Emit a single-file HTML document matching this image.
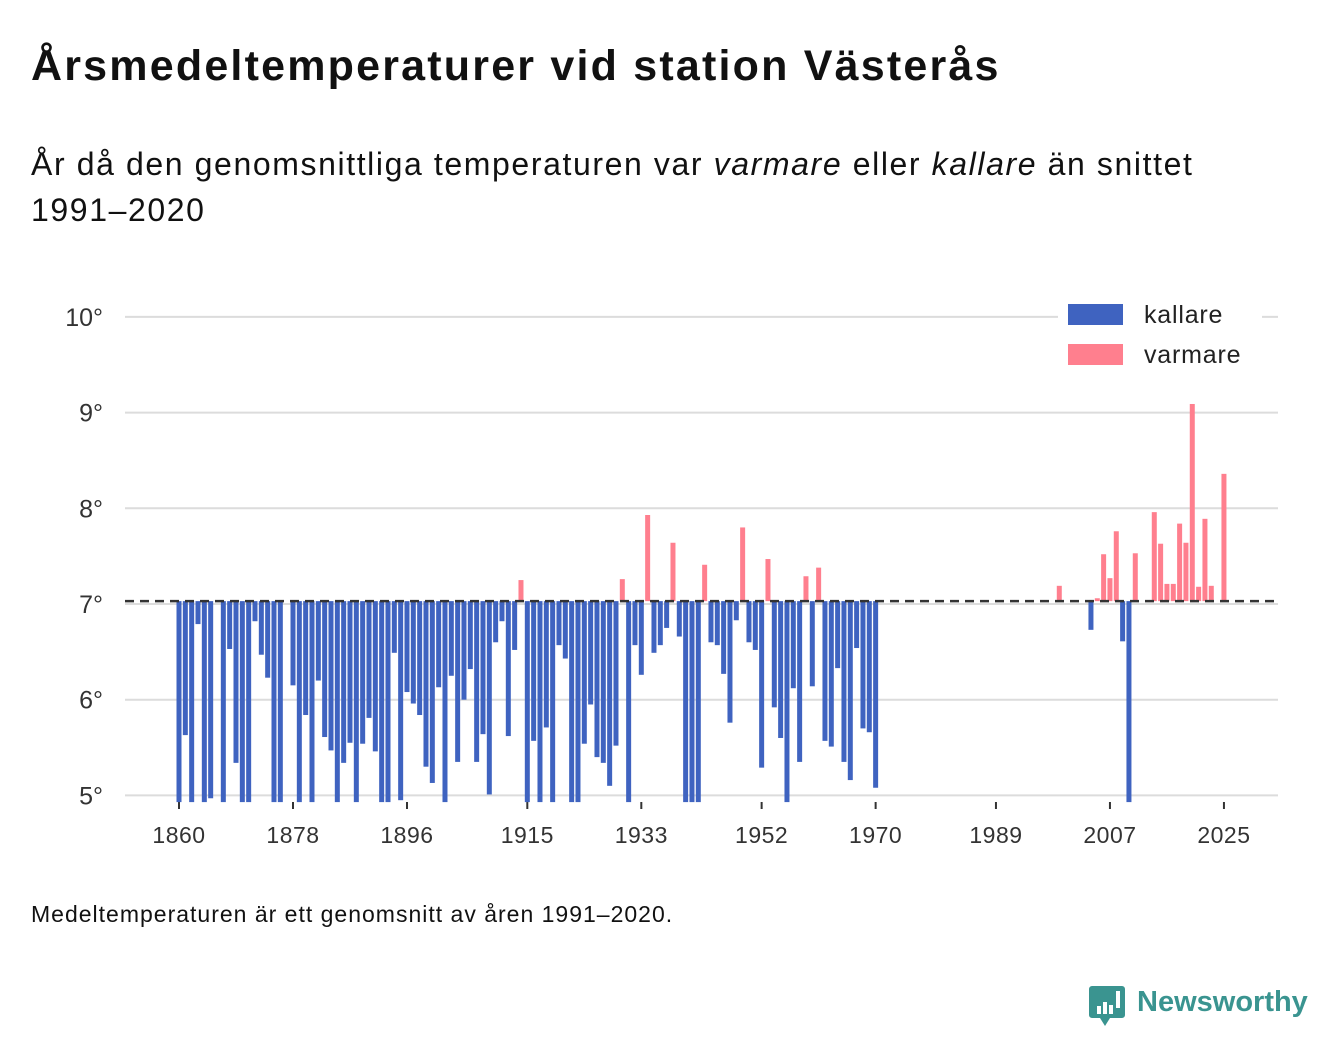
<!DOCTYPE html>
<html><head><meta charset="utf-8">
<style>
body{margin:0;width:1340px;height:1056px;background:#fff;overflow:hidden;font-family:"Liberation Sans",sans-serif;color:#111;}
#title{position:absolute;left:31px;top:42px;font-size:43px;font-weight:bold;margin:0;white-space:nowrap;letter-spacing:2.2px}
#subtitle{position:absolute;left:31px;top:141px;font-size:32px;line-height:46px;width:1200px;margin:0;letter-spacing:1.6px}
#footnote{position:absolute;left:31px;top:901px;font-size:23px;letter-spacing:1px}
svg{position:absolute;left:0;top:0}
</style></head><body>
<h1 id="title">Årsmedeltemperaturer vid station Västerås</h1>
<p id="subtitle">År då den genomsnittliga temperaturen var <i>varmare</i> eller <i>kallare</i> än snittet 1991–2020</p>
<div id="footnote">Medeltemperaturen är ett genomsnitt av åren 1991–2020.</div>
<svg id="chart" width="1340" height="1056"></svg>
<script>
const years = [1860,1861,1862,1863,1864,1865,1867,1868,1869,1870,1871,1872,1873,1874,1875,1876,1878,1879,1880,1881,1882,1883,1884,1885,1886,1887,1888,1889,1890,1891,1892,1893,1894,1895,1896,1897,1898,1899,1900,1901,1902,1903,1904,1905,1906,1907,1908,1909,1910,1911,1912,1913,1914,1915,1916,1917,1918,1919,1920,1921,1922,1923,1924,1925,1926,1927,1928,1929,1930,1931,1932,1933,1934,1935,1936,1937,1938,1939,1940,1941,1942,1943,1944,1945,1946,1947,1948,1949,1950,1951,1952,1953,1954,1955,1956,1957,1958,1959,1960,1961,1962,1963,1964,1965,1966,1967,1968,1969,1970,1999,2004,2005,2006,2007,2008,2009,2010,2011,2014,2015,2016,2017,2018,2019,2020,2021,2022,2023,2025];
const temps = [4.8,5.63,4.8,6.79,4.8,4.97,4.8,6.53,5.34,4.8,4.8,6.82,6.47,6.23,4.8,4.8,6.15,4.8,5.84,4.8,6.2,5.61,5.47,4.8,5.34,5.55,4.8,5.54,5.81,5.46,4.8,4.8,6.49,4.95,6.08,5.96,5.84,5.3,5.13,6.13,4.8,6.25,5.35,6.0,6.32,5.35,5.64,5.01,6.6,6.82,5.62,6.52,7.25,4.8,5.57,4.8,5.71,4.8,6.57,6.43,4.8,4.8,5.54,5.95,5.4,5.34,5.1,5.52,7.26,4.8,6.57,6.26,7.93,6.49,6.57,6.75,7.64,6.66,4.8,4.8,4.8,7.41,6.6,6.57,6.27,5.76,6.83,7.8,6.6,6.52,5.29,7.47,5.92,5.6,4.8,6.12,5.35,7.29,6.14,7.38,5.57,5.51,6.33,5.35,5.16,6.54,5.7,5.66,5.08,7.19,6.73,7.06,7.52,7.27,7.76,6.61,4.8,7.53,7.96,7.63,7.21,7.21,7.84,7.64,9.09,7.18,7.89,7.19,8.36];
const yTicks = [5,6,7,8,9,10];
const yTickLabels = ["5°","6°","7°","8°","9°","10°"];
const xTicks = [1860,1878,1896,1915,1933,1952,1970,1989,2007,2025];
const baseline = 7.03;

const NS="http://www.w3.org/2000/svg";
const svg=document.getElementById('chart');
const X=yr=>179+(yr-1860)*6.333;
const Y=v=>604-(Math.max(v,4.93)-7)*95.7;
function mk(t,a){const e=document.createElementNS(NS,t);for(const k in a)e.setAttribute(k,a[k]);svg.appendChild(e);return e;}

yTicks.forEach((t,i)=>{
  const g=mk('line',{x1:125,x2:1278,y1:Y(t),y2:Y(t),stroke:'#dcdcdc','stroke-width':2});
  
  
  const l=mk('text',{x:103,y:Y(t)+9,'text-anchor':'end','font-size':25,fill:'#333','font-family':'Liberation Sans, sans-serif'});
  l.textContent=yTickLabels[i];
  
  
});
xTicks.forEach(t=>{
  const tk=mk('line',{x1:X(t),x2:X(t),y1:802,y2:809,stroke:'#333','stroke-width':2});
  
  
  const l=mk('text',{x:X(t),y:843,'text-anchor':'middle','font-size':23,'letter-spacing':0.5,fill:'#333','font-family':'Liberation Sans, sans-serif'});
  l.textContent=t;
  
  
});
years.forEach((yr,i)=>{
  const v=temps[i];const warm=v>baseline;
  const y0=Y(baseline),y1=Y(v);
  const r=mk('rect',{x:X(yr)-2.5,y:Math.min(y0,y1),width:5,height:Math.abs(y1-y0),fill:warm?'#ff7f8e':'#3f63c0'});
  
  
});
const bl=mk('line',{x1:125,x2:1278,y1:Y(baseline),y2:Y(baseline),stroke:'#333','stroke-width':2.5,'stroke-dasharray':'9,6'});



const lg=[['kallare','#3f63c0',304],['varmare','#ff7f8e',344]];
const lbg=mk('rect',{x:1058,y:296,width:204,height:78,fill:'#fff'});


lg.forEach(([n,c,y])=>{
  const r=mk('rect',{x:1068,y:y,width:55,height:21,fill:c});
  
  
  const t=mk('text',{x:1144,y:y+19,'font-size':25,'letter-spacing':0.8,fill:'#222','font-family':'Liberation Sans, sans-serif'});
  t.textContent=n;
  
  
});

const lp=mk('path',{d:'M1092 986 h30 a3 3 0 0 1 3 3 v26 a3 3 0 0 1 -3 3 h-12 l-5 8 l-5 -8 h-8 a3 3 0 0 1 -3 -3 v-26 a3 3 0 0 1 3 -3z',fill:'#3a9490'});


[[1097,1006,4,8],[1103,1002,4,12],[1109,1005,4,9],[1116,991,4,17]].forEach(a=>{
  const b=mk('rect',{x:a[0],y:a[1],width:a[2],height:a[3],fill:'#fff'});
  
  
});
const lt=mk('text',{x:1137,y:1011,'font-size':29,'font-weight':'bold',fill:'#3a9490','font-family':'Liberation Sans, sans-serif'});
lt.textContent='Newsworthy';


</script>
</body></html>
